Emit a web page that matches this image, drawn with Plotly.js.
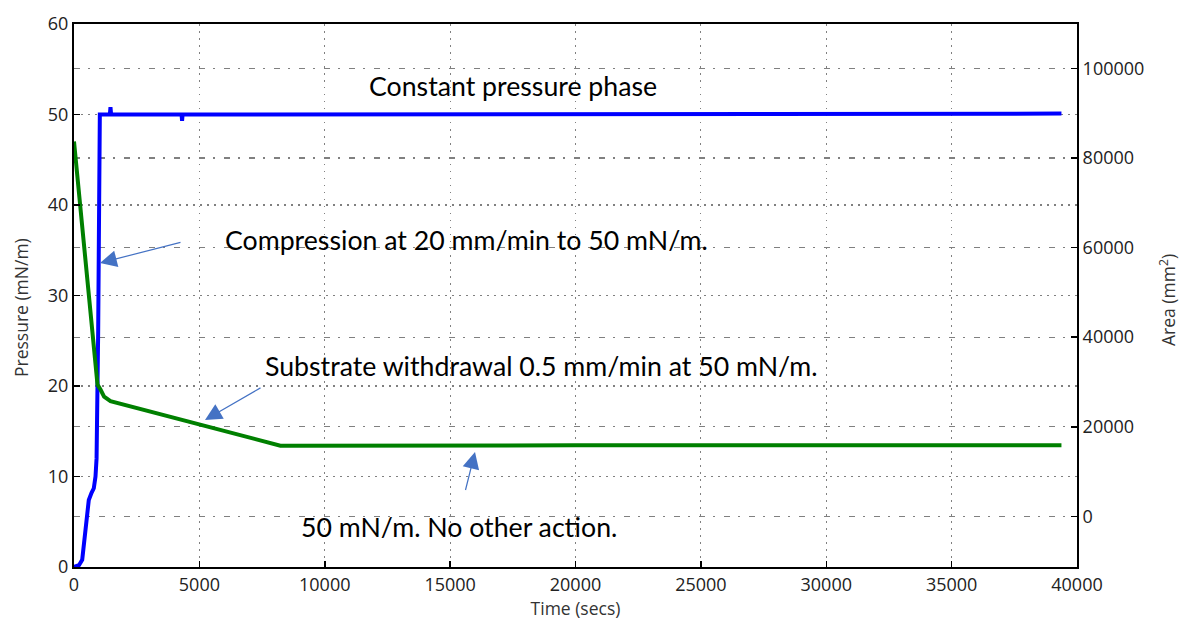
<!DOCTYPE html>
<html>
<head>
<meta charset="utf-8">
<script src="https://cdn.plot.ly/plotly-3.0.1.min.js"></script>
<style>html,body{margin:0;padding:0;background:#fff;}#chart{width:1180px;height:625px;}</style>
</head>
<body>
<div id="chart"></div>
<script>
// Pressure (left axis) trace
const pressureTime = [0, 200, 327, 450, 590, 700, 790, 857, 900, 964, 990, 1030, 1430, 1455, 1480, 4290, 4310, 4330, 39380];
const pressureValues = [0, 0.2, 0.8, 4, 7.4, 8.2, 8.7, 10, 12, 26, 35, 50, 50, 50.8, 50, 50, 49.3, 50, 50.1];
// Area (right axis) trace
const areaTime = [0, 937, 1056, 1200, 1455, 5000, 8230, 20000, 39380];
const areaValues = [83700, 29400, 28300, 26700, 25700, 20500, 15780, 15850, 15900];

const xTicks = [0, 5000, 10000, 15000, 20000, 25000, 30000, 35000, 40000];
const yTicks = [0, 10, 20, 30, 40, 50, 60];
const y2Ticks = [0, 20000, 40000, 60000, 80000, 100000];

const annoTexts = ["Constant pressure phase", "Compression at 20 mm/min to 50 mN/m.", "Substrate withdrawal 0.5 mm/min at 50 mN/m.", "50 mN/m. No other action."];
const axisTitles = {x: "Time (secs)", y: "Pressure (mN/m)", y2: "Area (mm<sup>2</sup>)"};

// pixel -> paper helpers (plot area: x 74..1077, y 24..567)
const PL = 74, PR = 1077, PT = 24, PB = 567;
const px = v => (v - PL) / (PR - PL);
const py = v => (PB - v) / (PB - PT);

const tickFont = {family: "Open Sans, sans-serif", size: 18, color: "#222"};
const titleFont = {family: "Open Sans, sans-serif", size: 17.5, color: "#333"};
const annoFont = {family: "Lato", size: 26.7, color: "#000"};

const traces = [
  {x: pressureTime, y: pressureValues, type: "scatter", mode: "lines", yaxis: "y",
   line: {color: "#0000ff", width: 4}, hoverinfo: "skip"},
  {x: areaTime, y: areaValues, type: "scatter", mode: "lines", yaxis: "y2",
   line: {color: "#008000", width: 4}, hoverinfo: "skip"}
];

const dotGrid = "1.5px,5.5px";
const dashDotGrid = "6px,8px,2px,9px";

function box(x0, y0, x1, y1) {
  return {type: "rect", xref: "paper", yref: "paper", layer: "between",
    x0: px(x0), x1: px(x1), y0: py(y1), y1: py(y0),
    fillcolor: "#ffffff", line: {width: 0}};
}

function arrow(tipX, tipY, tailX, tailY) {
  return {text: " ", font: {size: 1}, xref: "paper", yref: "paper",
    x: px(tipX), y: py(tipY), ax: tailX - tipX, ay: tailY - tipY,
    showarrow: true, arrowhead: 2, arrowsize: 2.8, arrowwidth: 1.2,
    arrowcolor: "#4472c4", standoff: 0};
}

function label(text, x, y, font, angle) {
  return {text: text, xref: "paper", yref: "paper", x: px(x), y: py(y),
    xanchor: "center", yanchor: "middle", showarrow: false, font: font, textangle: angle || 0};
}

const layout = {
  width: 1180, height: 625,
  margin: {l: PL, r: 1180 - PR, t: PT, b: 625 - PB},
  paper_bgcolor: "#fff", plot_bgcolor: "#fff",
  showlegend: false,
  xaxis: {
    range: [0, 40000], tickvals: xTicks, ticktext: xTicks.map(String),
    showline: true, mirror: true, linecolor: "#000", linewidth: 2,
    ticks: "inside", ticklen: 6, tickcolor: "#000", tickwidth: 1.5,
    showgrid: true, gridcolor: "#808080", gridwidth: 1.2, griddash: dotGrid,
    zeroline: false, tickfont: tickFont,
    title: {text: axisTitles.x, font: titleFont, standoff: 7}
  },
  yaxis: {
    range: [0, 60], tickvals: yTicks, ticktext: yTicks.map(String),
    showline: true, mirror: true, linecolor: "#000", linewidth: 2,
    ticks: "inside", ticklen: 6, tickcolor: "#000", tickwidth: 1.5,
    showgrid: true, gridcolor: "#808080", gridwidth: 1.2, griddash: dotGrid,
    zeroline: false, tickfont: tickFont
  },
  yaxis2: {
    overlaying: "y", side: "right",
    range: [-11300, 109900], tickvals: y2Ticks, ticktext: y2Ticks.map(String),
    showline: true, linecolor: "#000", linewidth: 2,
    ticks: "inside", ticklen: 6, tickcolor: "#000", tickwidth: 1.5,
    showgrid: true, gridcolor: "#808080", gridwidth: 1.2, griddash: dashDotGrid,
    zeroline: false, tickfont: tickFont
  },
  shapes: [
    box(355, 55, 685, 111),
    box(190, 210, 822, 274),
    box(255, 336, 849, 384),
    box(280, 498, 724, 552)
  ],
  annotations: [
    label(axisTitles.y, 21, 308, titleFont, -90),
    label(axisTitles.y2, 1167, 300, titleFont, -90),
    label(annoTexts[0], 512.5, 86, annoFont),
    label(annoTexts[1], 466, 240, annoFont),
    label(annoTexts[2], 541, 366, annoFont),
    label(annoTexts[3], 458.5, 527, annoFont),
    arrow(100, 263, 182, 242),
    arrow(205, 420, 262, 387),
    arrow(475, 452, 465, 492)
  ]
};

Plotly.newPlot("chart", traces, layout, {displayModeBar: false, staticPlot: true});
</script>
</body>
</html>
